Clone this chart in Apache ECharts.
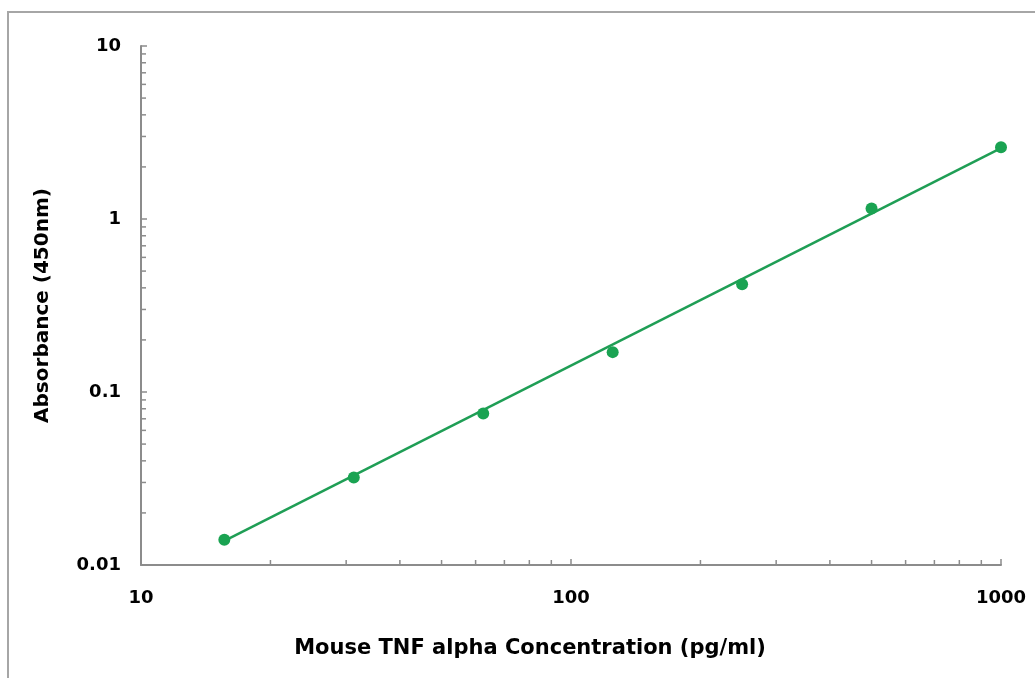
<!DOCTYPE html>
<html>
<head>
<meta charset="utf-8">
<script src="https://cdn.jsdelivr.net/npm/echarts@6/dist/echarts.min.js"></script>
<style>
html,body{margin:0;padding:0;background:#fff;}
#c{width:1035px;height:678px;}
</style>
</head>
<body>
<div id="c"></div>
<script>
// Standard curve data
const concentrations = [15.625, 31.25, 62.5, 125, 250, 500, 1000];
const absorbance = [0.014, 0.032, 0.075, 0.17, 0.42, 1.15, 2.6];
// Trend line endpoints
const trendX = [15.625, 1000];
const trendY = [0.0138, 2.57];
// Axis ranges
const xRange = [10, 1000];
const yRange = [0.01, 10];
// Minor tick values (log scale)
const xMinorTicks = [20,30,40,50,60,70,80,90,200,300,400,500,600,700,800,900];
const yMinorTicks = [0.02,0.03,0.04,0.05,0.06,0.07,0.08,0.09,0.2,0.3,0.4,0.5,0.6,0.7,0.8,0.9,2,3,4,5,6,7,8,9];

const FONT = 'DejaVu Sans, Arial, sans-serif';
const AXIS_COLOR = '#8c8c8c';
const GREEN_LINE = '#1f9e55';
const GREEN_PT = '#1aa352';

const chart = echarts.init(document.getElementById('c'));
const fmt = v => String(parseFloat(Number(v).toPrecision(3)));

const pointData = concentrations.map((x, i) => [x, absorbance[i]]);
const trendData = trendX.map((x, i) => [x, trendY[i]]);

chart.setOption({
  backgroundColor: '#fff',
  animation: false,
  graphic: [{
    type: 'rect',
    shape: { x: 8, y: 12, width: 1100, height: 700 },
    style: { fill: 'none', stroke: '#a6a6a6', lineWidth: 2 },
    z: -1, silent: true
  }],
  grid: { left: 141, right: 34, top: 46, bottom: 113, containLabel: false },
  xAxis: {
    type: 'log', logBase: 10, min: xRange[0], max: xRange[1],
    name: 'Mouse TNF alpha Concentration (pg/ml)',
    nameLocation: 'middle', nameGap: 73,
    nameTextStyle: { fontFamily: FONT, fontWeight: 'bold', fontSize: 21, color: '#000', padding: [0, 82, 0, 0] },
    axisLine: { show: true, lineStyle: { color: AXIS_COLOR, width: 2 } },
    axisTick: { show: true, inside: true, length: 6, lineStyle: { color: AXIS_COLOR, width: 1.5 } },
    axisLabel: { fontFamily: FONT, fontWeight: 'bold', fontSize: 18, color: '#000', margin: 24, formatter: fmt },
    splitLine: { show: false }
  },
  yAxis: {
    type: 'log', logBase: 10, min: yRange[0], max: yRange[1],
    name: 'Absorbance (450nm)',
    nameLocation: 'middle', nameGap: 88, nameRotate: 90,
    nameTextStyle: { fontFamily: FONT, fontWeight: 'bold', fontSize: 20, color: '#000' },
    axisLine: { show: true, lineStyle: { color: AXIS_COLOR, width: 2 } },
    axisTick: { show: true, inside: true, length: 6, lineStyle: { color: AXIS_COLOR, width: 1.5 } },
    axisLabel: { fontFamily: FONT, fontWeight: 'bold', fontSize: 18, color: '#000', margin: 20, formatter: fmt },
    splitLine: { show: false }
  },
  series: [
    {
      type: 'custom', silent: true, clip: false, z: 1,
      data: xMinorTicks.map(v => [v, yRange[0]]),
      renderItem: (params, api) => {
        const p = api.coord([api.value(0), api.value(1)]);
        return { type: 'line', shape: { x1: p[0], y1: p[1], x2: p[0], y2: p[1] - 5 }, style: { stroke: AXIS_COLOR, lineWidth: 1.5 } };
      }
    },
    {
      type: 'custom', silent: true, clip: false, z: 1,
      data: yMinorTicks.map(v => [xRange[0], v]),
      renderItem: (params, api) => {
        const p = api.coord([api.value(0), api.value(1)]);
        return { type: 'line', shape: { x1: p[0], y1: p[1], x2: p[0] + 5, y2: p[1] }, style: { stroke: AXIS_COLOR, lineWidth: 1.5 } };
      }
    },
    {
      type: 'line', data: trendData, symbol: 'none', silent: true,
      lineStyle: { color: GREEN_LINE, width: 2.5 }, z: 3
    },
    {
      type: 'scatter', data: pointData, symbol: 'circle', symbolSize: 12,
      itemStyle: { color: GREEN_PT, opacity: 1 }, z: 4
    }
  ]
});
</script>
</body>
</html>
